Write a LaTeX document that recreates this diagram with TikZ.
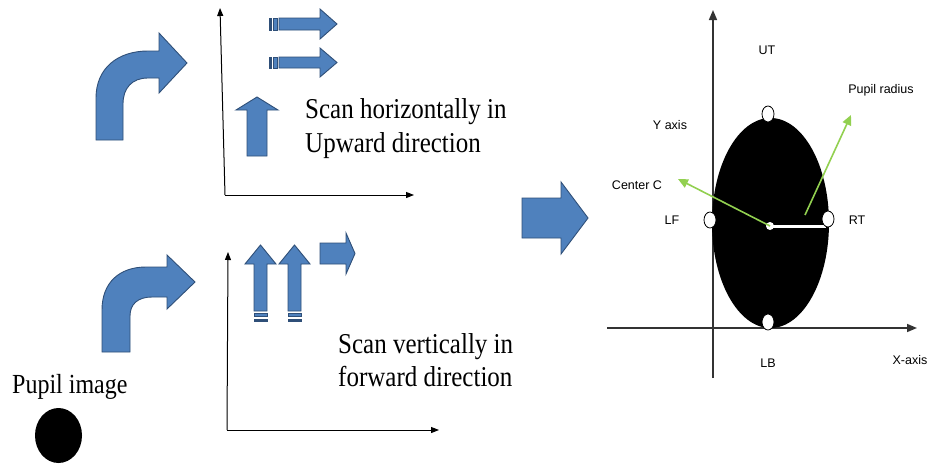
\documentclass[tikz,border=0pt]{standalone}
\usepackage{fontspec}
\setmainfont{Liberation Serif}
\newfontfamily\labfont{Liberation Sans}
\usetikzlibrary{arrows.meta}
\definecolor{shapeblue}{HTML}{4F81BD}
\definecolor{shapeedge}{HTML}{2F4F78}
\definecolor{pgreen}{HTML}{92D050}
\newcommand{\tallt}[1]{\scalebox{1}[1.15]{#1}}
\tikzset{
  blueshape/.style={fill=shapeblue,draw=shapeedge,line width=0.9pt,line join=miter},
  axisline/.style={draw=black,line width=1pt,-{Triangle[length=8pt,width=6pt]}},
  raxis/.style={draw=black!80,line width=1.6pt,-{Triangle[length=10pt,width=8pt]}},
  bigtext/.style={font=\fontsize{25}{30}\selectfont,anchor=base west,inner sep=0pt},
  labtext/.style={font=\labfont\fontsize{12.5}{14}\selectfont,inner sep=0pt},
  wdot/.style={fill=white,draw=black,line width=0.8pt},
  garrow/.style={draw=pgreen,line width=1.6pt,-{Triangle[length=10pt,width=9pt]}}
}
\begin{document}
\begin{tikzpicture}[x=1pt,y=-1pt]
\useasboundingbox (0,0) rectangle (929,466);
\fill[white] (0,0) rectangle (929,466);

% ---- top panel ----
\draw[blueshape] (96,140) -- (96,98) .. controls (96,68) and (118,51) .. (148,51) -- (159,51) -- (159,33) -- (187,63) -- (159,93) -- (159,78) -- (148,78) .. controls (132,78) and (123,88) .. (123,104) -- (123,140) -- cycle;
\coordinate (ta0) at (225,195);
\coordinate (tay) at (220,8);
\coordinate (tax) at (414,195);
\draw[axisline] (ta0) -- (tay);
\draw[axisline] (ta0) -- (tax);
\draw[blueshape,fill=shapeedge] (269,18) rectangle (271.5,30);
\draw[blueshape] (273.5,18) rectangle (277,30);
\draw[blueshape] (279,18) -- (320,18) -- (320,9) -- (337,24) -- (320,39) -- (320,30) -- (279,30) -- cycle;
\draw[blueshape,fill=shapeedge] (269,57) rectangle (271.5,68);
\draw[blueshape] (273.5,57) rectangle (277,68);
\draw[blueshape] (279,57) -- (320,57) -- (320,48) -- (337,62.5) -- (320,77) -- (320,68) -- (279,68) -- cycle;
\draw[blueshape] (247,156) -- (247,110) -- (236,110) -- (257,97) -- (278,110) -- (267,110) -- (267,156) -- cycle;
\node[bigtext] (scanh1) at (305,118) {\tallt{Scan horizontally in}};
\node[bigtext] (scanh2) at (305,152) {\tallt{Upward direction}};

% ---- bottom panel ----
\draw[blueshape] (102,352) -- (102,310) .. controls (102,282) and (120,267) .. (146,267) -- (167,267) -- (167,255) -- (195,282) -- (167,309) -- (167,297) -- (152,297) .. controls (138,297) and (130,304) .. (130,316) -- (130,352) -- cycle;
\coordinate (ba0) at (227,430);
\coordinate (bay) at (228,252);
\coordinate (bax) at (439,430);
\draw[axisline] (ba0) -- (bay);
\draw[axisline] (ba0) -- (bax);
\draw[blueshape] (254,311) -- (254,264) -- (245,264) -- (260.5,245) -- (276,264) -- (267,264) -- (267,311) -- cycle;
\draw[blueshape] (254,313.5) rectangle (267,316.5);
\draw[blueshape,fill=shapeedge] (254,319) rectangle (267,321.5);
\draw[blueshape] (288,311) -- (288,264) -- (279,264) -- (294.5,245) -- (310,264) -- (301,264) -- (301,311) -- cycle;
\draw[blueshape] (288,313.5) rectangle (301,316.5);
\draw[blueshape,fill=shapeedge] (288,319) rectangle (301,321.5);
\draw[blueshape] (320,243) -- (346,243) -- (346,233) -- (355,253.5) -- (346,274) -- (346,264) -- (320,264) -- cycle;
\node[bigtext] (scanv1) at (338,353) {\tallt{Scan vertically in}};
\node[bigtext] (scanv2) at (338,386) {\tallt{forward direction}};

% pupil image
\node[bigtext,font=\fontsize{24}{28}\selectfont] (pupiltxt) at (12,393) {\tallt{Pupil image}};
\fill[black] (58.5,435.5) ellipse [x radius=23.5pt, y radius=27.5pt];

% middle arrow
\draw[blueshape] (522,198) -- (561,198) -- (561,182) -- (588,218) -- (561,254) -- (561,238) -- (522,238) -- cycle;

% ---- right panel ----
\coordinate (ry0) at (713,378);
\coordinate (ryt) at (713,10);
\coordinate (rx0) at (607,328);
\coordinate (rxt) at (917,328);
\draw[raxis] (ry0) -- (ryt);
\draw[raxis] (rx0) -- (rxt);
\fill[black] (770.5,223) ellipse [x radius=58.5pt, y radius=105pt];
\coordinate (cen) at (770,226);
\coordinate (rtp) at (826,226);
\draw[white,line width=3pt] (cen) -- (rtp);
\draw[wdot] (768,114) ellipse [x radius=6pt, y radius=8pt];
\draw[wdot] (710,220) ellipse [x radius=6pt, y radius=8pt];
\draw[wdot] (828,219) ellipse [x radius=6pt, y radius=8pt];
\draw[wdot] (768,322) ellipse [x radius=6pt, y radius=8pt];
\fill[white] (cen) circle (4pt);
\coordinate (ctip) at (678,179);
\coordinate (prs) at (805,215);
\coordinate (prt) at (851,115);
\draw[garrow] (cen) -- (ctip);
\draw[garrow] (prs) -- (prt);
\node[labtext] (ut) at (767,50) {UT};
\node[labtext] (prad) at (881,90) {Pupil radius};
\node[labtext] (yax) at (670,125) {Y axis};
\node[labtext] (cc) at (637,185) {Center C};
\node[labtext] (lf) at (672,220) {LF};
\node[labtext] (rt) at (857,220) {RT};
\node[labtext] (lb) at (768,363) {LB};
\node[labtext] (xax) at (910,360) {X-axis};
\end{tikzpicture}
\end{document}
